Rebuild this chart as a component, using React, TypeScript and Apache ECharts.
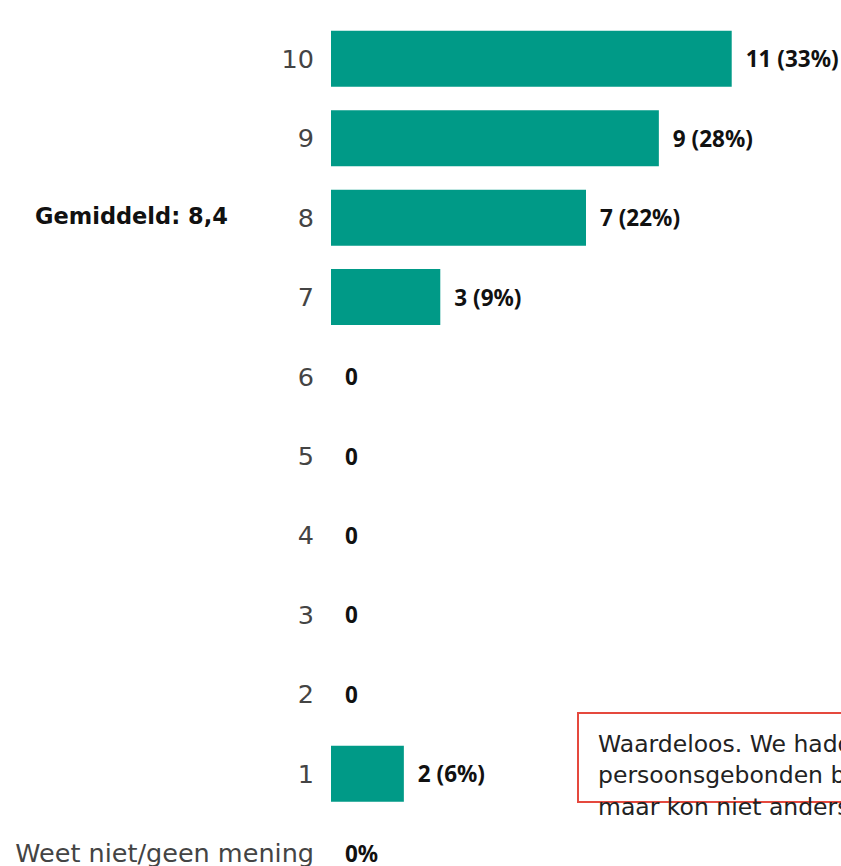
import React, { useEffect, useRef } from "react";
import * as echarts from "echarts";

const categories = ["10", "9", "8", "7", "6", "5", "4", "3", "2", "1", "Weet niet/geen mening"];
const counts = [11, 9, 7, 3, 0, 0, 0, 0, 0, 2, 0];
const valueLabels = ["11 (33%)", "9 (28%)", "7 (22%)", "3 (9%)", "0", "0", "0", "0", "0", "2 (6%)", "0%"];
const averageText = "Gemiddeld: 8,4";
const commentLines = ["Waardeloos. We hadden een", "persoonsgebonden budget", "maar kon niet anders"];

export default function App() {
  const ref = useRef<HTMLDivElement>(null);
  useEffect(() => {
    document.body.style.margin = "0";
    document.body.style.overflow = "hidden";
    const chart = echarts.init(ref.current!, undefined, { renderer: "svg" });
    chart.setOption({
      animation: false,
      grid: { left: 331, right: 0, top: 19, bottom: 0, containLabel: false },
      xAxis: { type: "value", min: 0, max: 14, show: false },
      yAxis: {
        type: "category",
        data: categories,
        inverse: true,
        axisLine: { show: false },
        axisTick: { show: false },
        axisLabel: {
          margin: 17,
          fontSize: 25.5,
          color: "#444444",
          fontFamily: "DejaVu Sans",
        },
      },
      series: [
        {
          type: "bar",
          data: counts,
          barCategoryGap: "29.5%",
          itemStyle: { color: "#009a87" },
          label: {
            show: true,
            position: "right",
            distance: 14,
            fontSize: 22.5,
            fontWeight: "bold",
            color: "#111111",
            fontFamily: "Noto Sans",
            formatter: (p: any) => valueLabels[p.dataIndex],
          },
        },
      ],
      graphic: [
        {
          type: "text",
          left: 35,
          top: 204,
          style: {
            text: averageText,
            fontSize: 22.5,
            fontWeight: "bold",
            fill: "#111111",
            fontFamily: "DejaVu Sans",
          },
        },
        {
          type: "rect",
          shape: { x: 578, y: 713, width: 300, height: 89 },
          style: { fill: "#ffffff", stroke: "#e5493e", lineWidth: 2 },
        },
        {
          type: "text",
          x: 598,
          y: 728,
          style: {
            text: commentLines.join("\n"),
            fontSize: 23.5,
            lineHeight: 31.5,
            fill: "#222222",
            fontFamily: "DejaVu Sans",
          },
        },
      ],
    });
    return () => chart.dispose();
  }, []);
  return <div ref={ref} style={{ width: 841, height: 893 }} />;
}
